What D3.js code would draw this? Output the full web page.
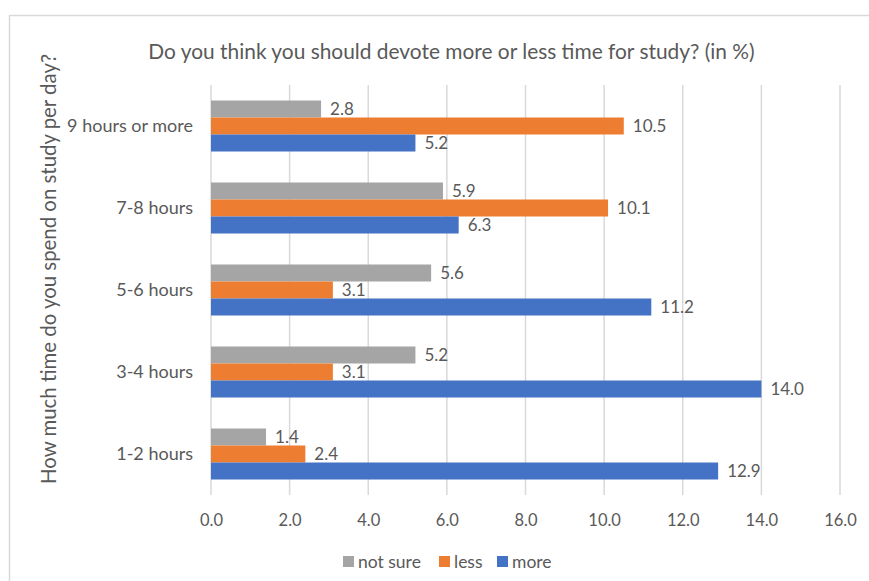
<!DOCTYPE html>
<html><head><meta charset="utf-8">
<script src="https://cdn.jsdelivr.net/npm/d3@7"></script>
<style>body{margin:0;background:#fff}svg{display:block}text{font-family:Lato,"Open Sans",sans-serif;fill:#595959}</style>
</head><body>
<svg id="c" width="869" height="581"></svg>
<script>
const categories = ["9 hours or more","7-8 hours","5-6 hours","3-4 hours","1-2 hours"];
const seriesNames = ["not sure","less","more"];
const notSure = [2.8,5.9,5.6,5.2,1.4];
const less = [10.5,10.1,3.1,3.1,2.4];
const more = [5.2,6.3,11.2,14.0,12.9];
const xTicks = [0,2,4,6,8,10,12,14,16];
const colors = ["#A5A5A5","#ED7D31","#4472C4"];
const title = "Do you think you should devote more or less time for study? (in %)";
const yTitle = "How much time do you spend on study per day?";

const series = [notSure, less, more];
const svg = d3.select("#c");
svg.append("rect").attr("x",9.5).attr("y",15.5).attr("width",900).attr("height",600)
  .attr("fill","none").attr("stroke","#D9D9D9").attr("stroke-width",1.5);

const x = d3.scaleLinear().domain([0,16]).range([211,840]);
const y = d3.scaleBand().domain(categories).range([85,495]).paddingInner(0.378).paddingOuter(0.189);
const ySub = d3.scaleBand().domain(seriesNames).range([0,y.bandwidth()]);

// gridlines
svg.append("g").selectAll("line").data(xTicks).join("line")
  .attr("x1",d=>x(d)).attr("x2",d=>x(d)).attr("y1",85).attr("y2",495)
  .attr("stroke","#D9D9D9").attr("stroke-width",1.5);

// x axis labels
const xAxis = d3.axisBottom(x).tickValues(xTicks).tickFormat(d3.format(".1f")).tickSize(0).tickPadding(0);
const gx = svg.append("g").attr("transform","translate(0,514)").call(xAxis);
gx.select(".domain").remove();
gx.selectAll("text").attr("font-size",16.5).attr("dy","0.71em").style("font-family","Lato").attr("fill","#595959");

// y axis labels
const yAxis = d3.axisLeft(y).tickSize(0).tickPadding(0);
const gy = svg.append("g").attr("transform","translate(193,0)").call(yAxis);
gy.select(".domain").remove();
gy.selectAll("text").attr("font-size",18).style("font-family","Lato").attr("fill","#595959");

// bars
const groups = svg.append("g").selectAll("g").data(categories).join("g")
  .attr("transform",d=>`translate(0,${y(d)})`);
seriesNames.forEach((s,si)=>{
  groups.append("rect")
    .attr("x",x(0)).attr("y",ySub(s))
    .attr("width",(d,i)=>x(series[si][i])-x(0))
    .attr("height",ySub.bandwidth())
    .attr("fill",colors[si]);
  groups.append("text")
    .attr("x",(d,i)=>x(series[si][i])+9)
    .attr("y",ySub(s)+ySub.bandwidth()/2)
    .attr("dy","0.36em")
    .attr("font-size",17)
    .text((d,i)=>d3.format(".1f")(series[si][i]));
});

// title
svg.append("text").attr("x",451.5).attr("y",59).attr("text-anchor","middle")
  .attr("font-size",20.9).text(title);
// y title
svg.append("text").attr("transform","translate(56,269) rotate(-90)").attr("text-anchor","middle")
  .attr("font-size",20.4).text(yTitle);

// legend
const legendX = [343,439,497];
const lg = svg.append("g").selectAll("g").data(seriesNames).join("g")
  .attr("transform",(d,i)=>`translate(${legendX[i]},556)`);
lg.append("rect").attr("width",11).attr("height",11).attr("fill",(d,i)=>colors[i]);
lg.append("text").attr("x",15).attr("y",5.5).attr("dy","0.36em").attr("font-size",17.5).text(d=>d);
</script>
</body></html>
